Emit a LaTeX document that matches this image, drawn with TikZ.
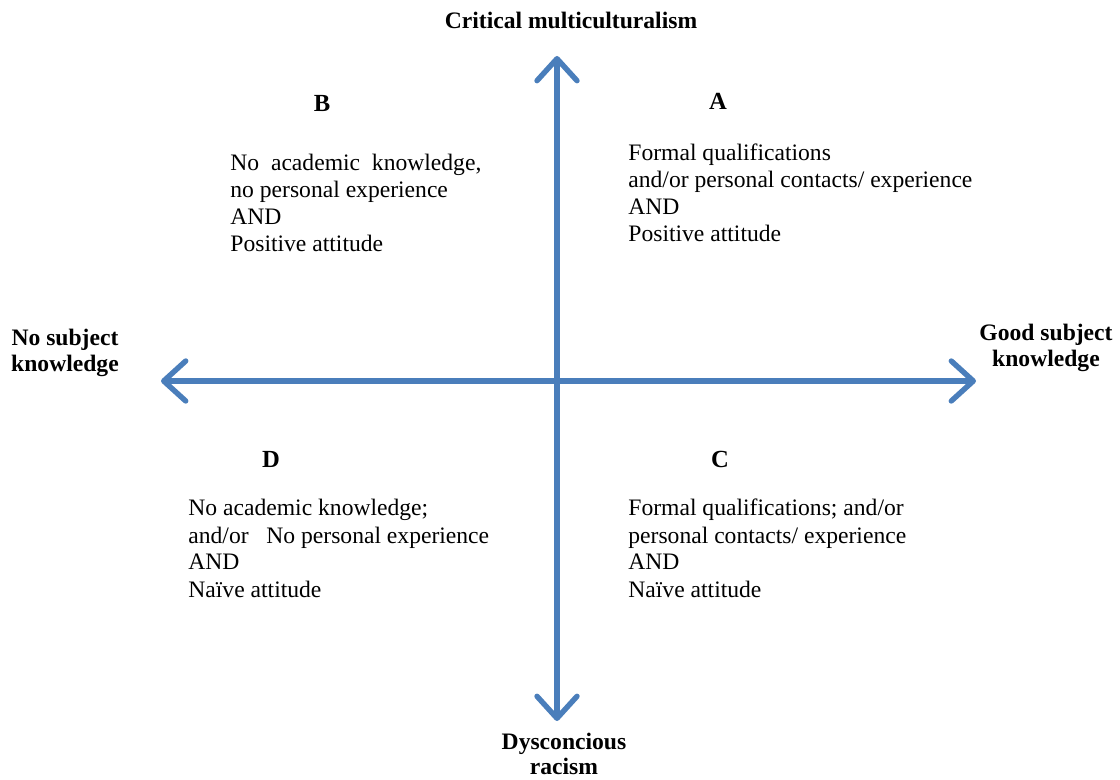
\documentclass[tikz,border=0pt]{standalone}
\usepackage{fontspec}
\setmainfont{Liberation Serif}
\usepackage{xcolor}
\usetikzlibrary{arrows.meta,positioning}
\definecolor{axisblue}{HTML}{4A7EBB}

\begin{document}
\begin{tikzpicture}[
    x=0.5pt, y=-0.5pt,
    axislabel/.style={align=center, font=\fontsize{11.8}{12.8}\selectfont\bfseries, inner sep=0pt},
    letter/.style={font=\fontsize{12.3}{13}\selectfont\bfseries, inner sep=0pt},
    quadtext/.style={align=left, anchor=base west, inner sep=0pt, font=\fontsize{11.8}{13.5}\selectfont},
    axis/.style={{Straight Barb[length=11pt,width=20pt,line cap=round,line join=round]}-{Straight Barb[length=11pt,width=20pt,line cap=round,line join=round]}, line width=2.7pt, draw=axisblue}
]
\useasboundingbox (0,0) rectangle (1120,780);

% axis ends
\coordinate (top) at (557,56);
\coordinate (bottom) at (557,721);
\coordinate (left) at (161,381);
\coordinate (right) at (976,381);

\draw[axis] (bottom) -- (top);
\draw[axis] (left) -- (right);

% axis labels
\node[axislabel] (critical) at (571,20) {Critical multiculturalism};
\node[axislabel] (dysc) at (564,754) {Dysconcious\\racism};
\node[axislabel] (nosubj) at (65,353) {No subject\\knowledge};
\node[axislabel] (goodsubj) at (1046,348) {Good subject\\knowledge};

% quadrant letters
\node[letter] (qa) at (718,101) {A};
\node[letter] (qb) at (322,103) {B};
\node[letter] (qc) at (720,459) {C};
\node[letter] (qd) at (271,459) {D};

% quadrant texts (anchored at the last line)
\node[quadtext] (texta) at (628,242) {Formal qualifications\\and/or personal contacts/ experience\\AND\\Positive attitude};
\node[quadtext] (textb) at (230,252) {No\ \ academic\ \ knowledge,\\no personal experience\\AND\\Positive attitude};
\node[quadtext] (textc) at (628,597) {Formal qualifications; and/or\\personal contacts/ experience\\AND\\Naïve attitude};
\node[quadtext] (textd) at (188,597) {No academic knowledge;\\and/or\ \ \ No personal experience\\AND\\Naïve attitude};

\end{tikzpicture}
\end{document}
